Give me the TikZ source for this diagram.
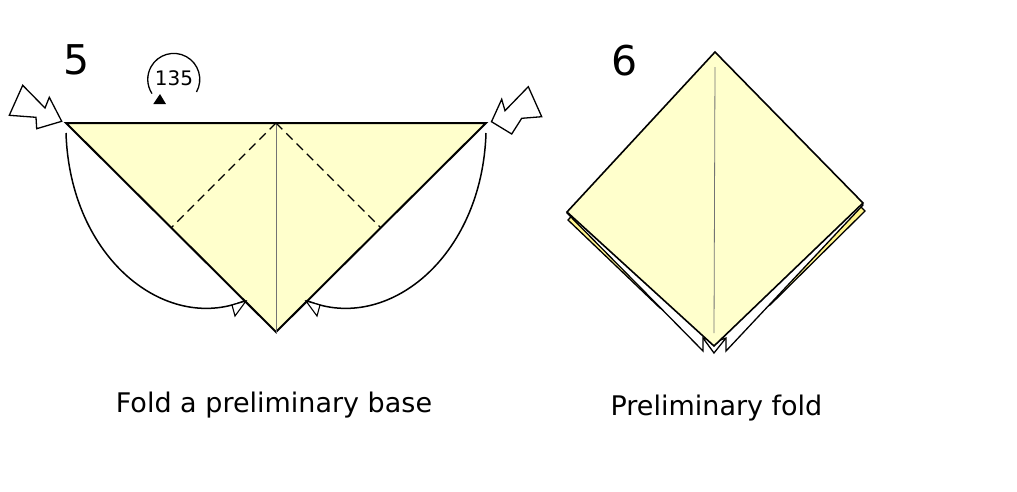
\documentclass[tikz,border=0pt]{standalone}
\usepackage{fontspec}
\setmainfont{DejaVu Sans}
\begin{document}
\begin{tikzpicture}[x=1pt,y=-1pt,
  paper/.style={fill=paperY,draw=black,line width=2pt,line join=miter},
  strip/.style={fill=stripY,draw=black,line width=1.3pt,line join=miter},
  backw/.style={fill=white,draw=black,line width=1.3pt,line join=miter},
  crease/.style={draw=black!55,line width=0.8pt},
  valley/.style={draw=black,line width=1.4pt,dash pattern=on 9pt off 5.5pt},
  movearrow/.style={draw=black,line width=1.5pt},
  headw/.style={fill=white,draw=black,line width=1.1pt,line join=miter},
  push/.style={fill=white,draw=black,line width=1.3pt,line join=miter},
  lbl/.style={inner sep=0pt,anchor=center}]
\definecolor{paperY}{RGB}{255,255,204}
\definecolor{stripY}{RGB}{255,244,140}
\useasboundingbox (0,0) rectangle (1017,491);
\fill[white] (0,0) rectangle (1017,491);

% ---------- Step 5 ----------
\node[lbl,font=\fontsize{41}{41}\selectfont] (n5) at (77,60) {5};
\coordinate (A) at (66,123);
\coordinate (B) at (486,123);
\coordinate (C) at (276,332);
\coordinate (M) at (276,123);
\coordinate (L) at (171,228);
\coordinate (R) at (381,228);
\draw[paper] (A) -- (B) -- (C) -- cycle;
\draw[crease] (M) -- ([yshift=-2pt]C);
\draw[valley] (M) -- (L);
\draw[valley] (M) -- (R);

% movement curves
\coordinate (ls) at (66,133);
\coordinate (le) at (244,301);
\coordinate (rs) at (486,133);
\coordinate (re) at (308,301);
\draw[movearrow] (ls) .. controls (70,258) and (165,333) .. (le);
\draw[movearrow] (rs) .. controls (482,258) and (387,333) .. (re);
\draw[headw] (232,305) -- (246,301) -- (235,316) -- cycle;
\draw[headw] (320,305) -- (306,301) -- (317,316) -- cycle;

% push arrows
\draw[push] (22.7,85.3) -- (9.3,115.3) -- (36,117.3) -- (36.7,128.7) -- (61.7,121.3) -- (49.3,97.3) -- (45,108) -- cycle;
\draw[push] (528.3,86.7) -- (541.7,116.7) -- (521.7,118.3) -- (511.7,134) -- (491.5,121.7) -- (501.7,99.3) -- (505,110.7) -- cycle;

% rotation symbol
\node[lbl,font=\fontsize{20}{20}\selectfont] (rot) at (174,78.5) {135};
\draw[line width=1.3pt] (196.5,92) arc[start angle=-29,end angle=213,radius=26pt];
\fill[black] (153.3,104) -- (166,104) -- (160,94) -- cycle;

\node[lbl,font=\fontsize{27}{27}\selectfont] (cap5) at (274,405) {Fold a preliminary base};

% ---------- Step 6 ----------
\node[lbl,font=\fontsize{41}{41}\selectfont] (n6) at (625,61) {6};
% back yellow layers
\draw[strip] (715,60) -- (865,211) -- (770,305) -- (715,330) -- cycle;
\draw[strip] (715,60) -- (568,220) -- (660,308) -- (715,330) -- cycle;
% back V
\draw[backw] (703,338) -- (714,353) -- (726,338) -- cycle;
% white layers
\draw[backw] (715,60) -- (863,205) -- (726,351) -- (726,338) -- (715,342) -- cycle;
\draw[backw] (715,60) -- (567,213) -- (703,351) -- (703,338) -- (715,342) -- cycle;
% front
\coordinate (T) at (715,52);
\coordinate (E) at (863,203);
\coordinate (S) at (714,346);
\coordinate (W) at (567,212);
\draw[paper,line width=1.6pt] (T) -- (E) -- (S) -- (W) -- cycle;
\draw[crease] (715,67) -- (714,333);

\node[lbl,font=\fontsize{27}{27}\selectfont] (cap6) at (716.5,408) {Preliminary fold};
\end{tikzpicture}
\end{document}
